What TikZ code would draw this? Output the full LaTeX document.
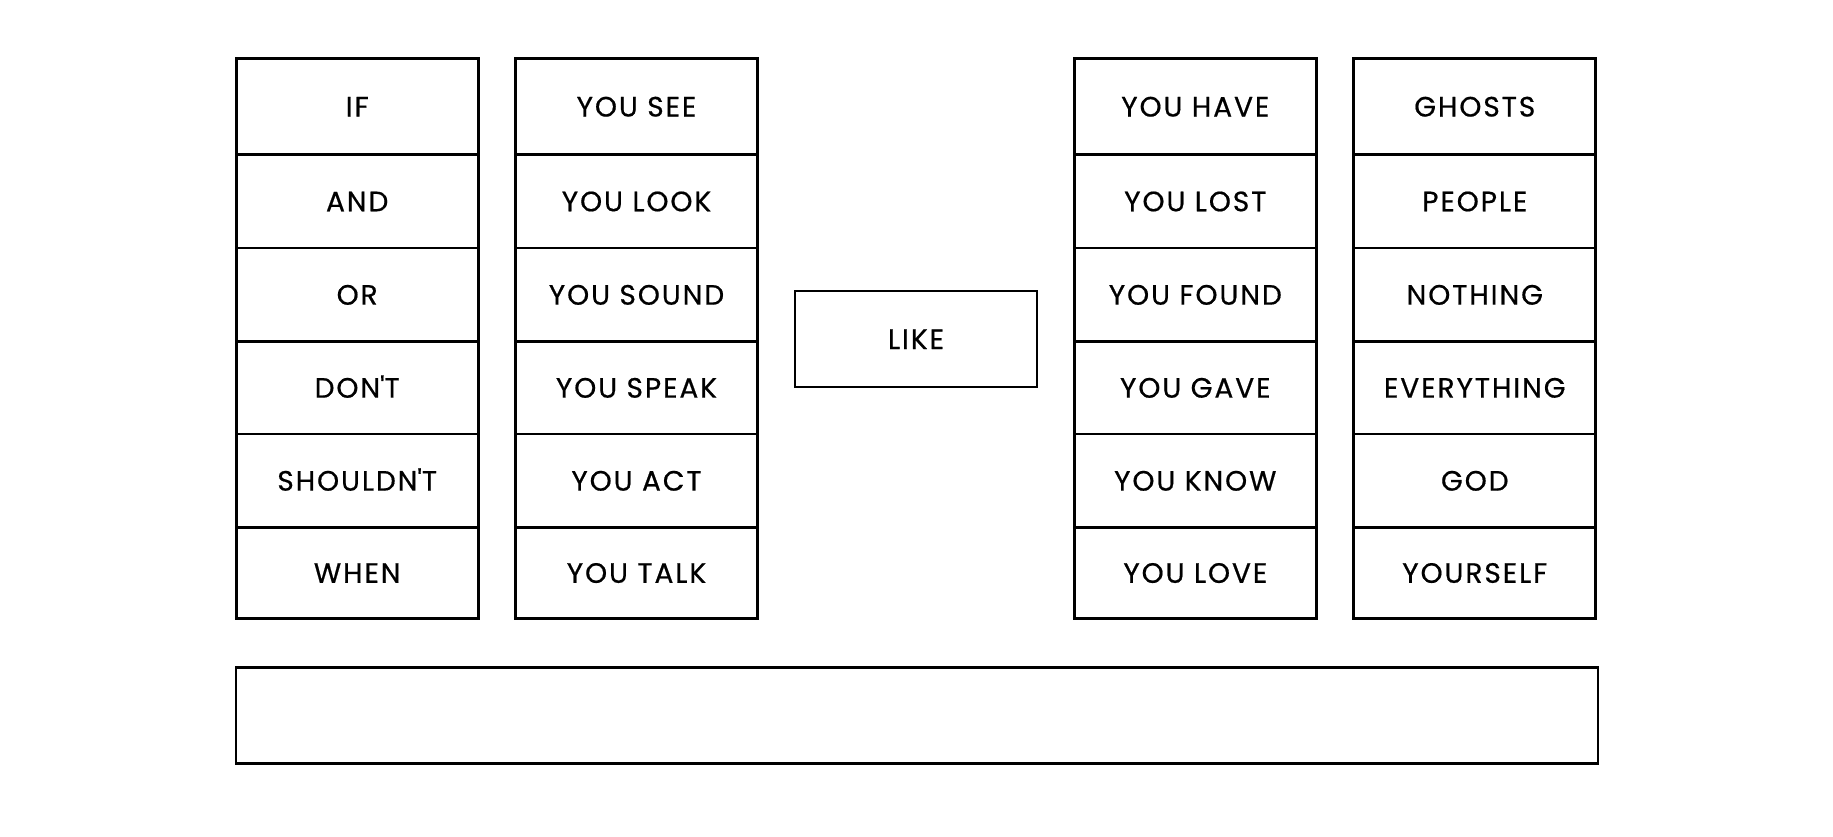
\documentclass[tikz,border=0pt]{standalone}
\usepackage{fontspec}
\setmainfont{Poppins}[LetterSpace=7,FakeBold=0.6]
\begin{document}
\begin{tikzpicture}[x=1pt,y=-1pt,
  cell/.style={draw=black,line width=2.7pt,minimum width=242pt,inner sep=0pt,
    font=\fontsize{28}{30}\selectfont,text height=20pt,text depth=0pt,anchor=center}]
\useasboundingbox (0,0) rectangle (1833,836);
\foreach \c/\x/\words in {1/357.2/{IF,AND,OR,DON\textquotesingle T,SHOULDN\textquotesingle T,WHEN},
  2/636.5/{YOU SEE,YOU LOOK,YOU SOUND,YOU SPEAK,YOU ACT,YOU TALK},
  3/1195.3/{YOU HAVE,YOU LOST,YOU FOUND,YOU GAVE,YOU KNOW,YOU LOVE},
  4/1474.8/{GHOSTS,PEOPLE,NOTHING,EVERYTHING,GOD,YOURSELF}}{
  \foreach \w [count=\r] in \words {
    \pgfmathsetmacro{\yc}{{106.5,201.25,294.65,387.65,480.6,572.8}[\r-1]}
    \pgfmathsetmacro{\hc}{{96,93.5,93.3,92.7,93.2,91.2}[\r-1]}
    \node[cell,minimum height=\hc pt] (c\c r\r) at (\x,\yc) {\w};
  }
}
\node[cell,minimum height=96pt] (like) at (916,339) {LIKE};
\node[cell,minimum width=1362pt,minimum height=96pt] (blank) at (917,715.5) {};
\end{tikzpicture}
\end{document}
